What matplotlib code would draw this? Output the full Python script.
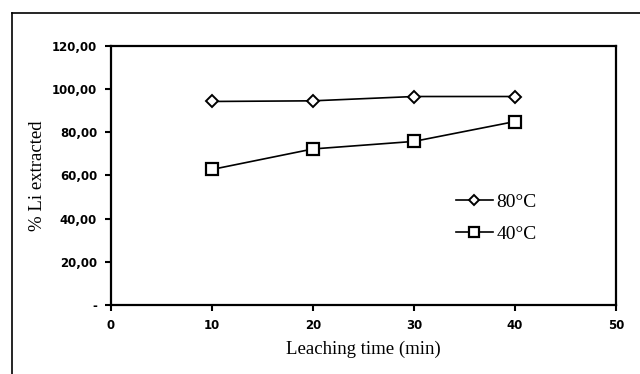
import matplotlib.pyplot as plt
from matplotlib.lines import Line2D

# data
times = [10, 20, 30, 40]
li_80 = [94.3, 94.6, 96.6, 96.6]
li_40 = [62.8, 72.3, 75.8, 85.0]
y_ticks = [0, 20, 40, 60, 80, 100, 120]
y_labels = ['-', '20,00', '40,00', '60,00', '80,00', '100,00', '120,00']
x_ticks = [0, 10, 20, 30, 40, 50]

serif = ['Liberation Serif', 'DejaVu Serif']

fig = plt.figure(figsize=(6.4, 3.74), dpi=100)
ax = fig.add_axes([0.1734, 0.1845, 0.789, 0.6925])

ax.plot(times, li_80, color='black', lw=1.2, marker='D', ms=6,
        mfc='white', mec='black', mew=1.4, label='80°C')
ax.plot(times, li_40, color='black', lw=1.2, marker='s', ms=9,
        mfc='white', mec='black', mew=1.6, label='40°C')

ax.set_xlim(0, 50)
ax.set_ylim(0, 120)
ax.set_xticks(x_ticks)
ax.set_yticks(y_ticks)
ax.set_yticklabels(y_labels)
for lab in ax.get_xticklabels() + ax.get_yticklabels():
    lab.set_fontweight('bold')
    lab.set_fontsize(8.5)
ax.tick_params(direction='out', length=4, width=1.5, pad=6)

for s in ax.spines.values():
    s.set_linewidth(1.6)

ax.set_xlabel('Leaching time (min)', family=serif, fontsize=13.5, labelpad=6)
ax.set_ylabel('% Li extracted', family=serif, fontsize=13.5, labelpad=4)

leg = ax.legend(loc='center left', bbox_to_anchor=(0.648, 0.335), frameon=False,
                prop={'family': serif, 'size': 14}, handlelength=1.9,
                handletextpad=0.2, labelspacing=0.75, markerscale=0.85)

# outer chart frame (cropped on the right and bottom)
fig.add_artist(Line2D([12 / 640, 1], [1 - 13 / 374, 1 - 13 / 374],
                      color='black', lw=1.2, transform=fig.transFigure))
fig.add_artist(Line2D([12 / 640, 12 / 640], [0, 1 - 13 / 374],
                      color='black', lw=1.2, transform=fig.transFigure))

plt.savefig('out.png', dpi=100)
